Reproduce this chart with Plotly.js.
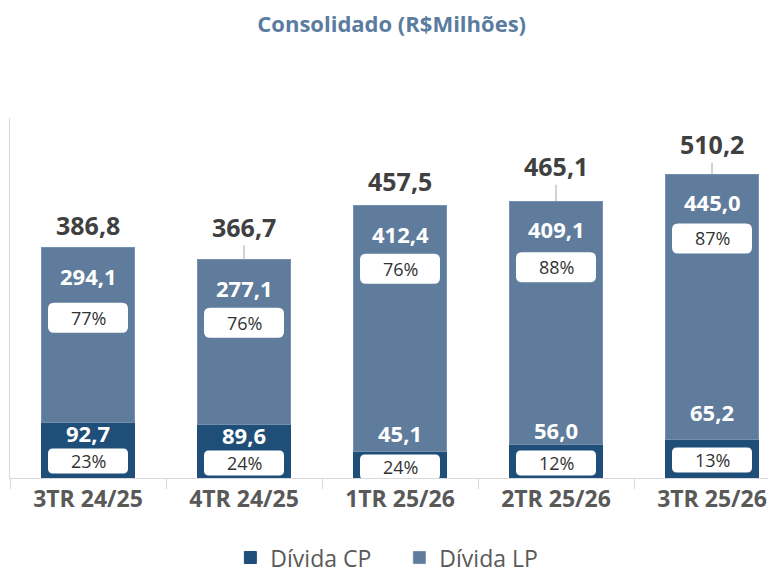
<!DOCTYPE html>
<html>
<head>
<meta charset="utf-8">
<script src="https://cdn.plot.ly/plotly-3.0.1.min.js"></script>
<style>html,body{margin:0;padding:0;background:#fff;}#chart{width:768px;height:576px;}</style>
</head>
<body>
<div id="chart"></div>
<script>
// ---- data ----
const categories = ['3TR 24/25', '4TR 24/25', '1TR 25/26', '2TR 25/26', '3TR 25/26'];
const dividaCP = [92.7, 89.6, 45.1, 56.0, 65.2];
const dividaLP = [294.1, 277.1, 412.4, 409.1, 445.0];
const pctCP = ['23%', '24%', '24%', '12%', '13%'];
const pctLP = ['77%', '76%', '76%', '88%', '87%'];
const seriesNames = ['Dívida CP', 'Dívida LP'];
const chartTitle = 'Consolidado (R$Milhões)';

// ---- styling (label nudges in pixels, not data) ----
const totalLift = [23, 33, 25, 35, 30];
const totalLeader = [false, true, false, true, true];
const cpLabelLift = [45, 43, 45, 48, 66];
const cpBoxLift = [17, 15, 11, 15, 18];
const lpBoxDrop = [70, 63, 63, 66, 64];

const FONT = 'Open Sans, Noto Sans, sans-serif';
const colCP = '#1f4e79';
const colLP = '#5f7c9c';
const fmt = v => v.toFixed(1).replace('.', ',');
const totals = dividaCP.map((v, i) => Math.round((v + dividaLP[i]) * 10) / 10);

const traces = [
  {type: 'bar', name: seriesNames[0], x: categories, y: dividaCP, width: 0.59,
   marker: {color: colCP, line: {color: colCP, width: 1}}, hoverinfo: 'none'},
  {type: 'bar', name: seriesNames[1], x: categories, y: dividaLP, width: 0.59,
   marker: {color: colLP, line: {color: '#7590ae', width: 1}}, hoverinfo: 'none'}
];

// rounded box path in pixels centred at (0, cy)
function roundBox(cy, w, h, r) {
  const x0 = -w / 2, x1 = w / 2, y0 = cy - h / 2, y1 = cy + h / 2;
  return `M${x0 + r},${y0} L${x1 - r},${y0} Q${x1},${y0} ${x1},${y0 + r} L${x1},${y1 - r} Q${x1},${y1} ${x1 - r},${y1} ` +
         `L${x0 + r},${y1} Q${x0},${y1} ${x0},${y1 - r} L${x0},${y0 + r} Q${x0},${y0} ${x0 + r},${y0} Z`;
}

const ann = [];
const shapes = [];
categories.forEach((c, i) => {
  const totFont = {family: FONT, size: 25, color: '#404040', weight: 'bold'};
  if (totalLeader[i]) {
    ann.push({x: c, y: totals[i], xref: 'x', yref: 'y', text: fmt(totals[i]),
      showarrow: true, arrowhead: 0, arrowwidth: 1, arrowcolor: '#a6a6a6', ax: 0, ay: -totalLift[i], standoff: 0,
      font: totFont});
  } else {
    ann.push({x: c, y: totals[i], xref: 'x', yref: 'y', text: fmt(totals[i]), showarrow: false,
      yshift: totalLift[i], yanchor: 'middle', font: totFont});
  }
  ann.push({x: c, y: totals[i], xref: 'x', yref: 'y', text: fmt(dividaLP[i]), showarrow: false,
    yshift: -28, yanchor: 'middle', font: {family: FONT, size: 22, color: '#ffffff', weight: 'bold'}});
  shapes.push({type: 'path', xref: 'x', yref: 'y', xsizemode: 'pixel', ysizemode: 'pixel',
    xanchor: i, yanchor: totals[i], path: roundBox(-lpBoxDrop[i], 80, 30, 6),
    fillcolor: '#ffffff', line: {width: 0}, layer: 'above'});
  ann.push({x: c, y: totals[i], xref: 'x', yref: 'y', text: pctLP[i], showarrow: false,
    yshift: -lpBoxDrop[i], yanchor: 'middle', font: {family: FONT, size: 18, color: '#333333'}});
  ann.push({x: c, y: 0, xref: 'x', yref: 'y', text: fmt(dividaCP[i]), showarrow: false,
    yshift: cpLabelLift[i], yanchor: 'middle', font: {family: FONT, size: 22, color: '#ffffff', weight: 'bold'}});
  shapes.push({type: 'path', xref: 'x', yref: 'y', xsizemode: 'pixel', ysizemode: 'pixel',
    xanchor: i, yanchor: 0, path: roundBox(cpBoxLift[i], 80, 25, 5),
    fillcolor: '#ffffff', line: {width: 0}, layer: 'above'});
  ann.push({x: c, y: 0, xref: 'x', yref: 'y', text: pctCP[i], showarrow: false,
    yshift: cpBoxLift[i], yanchor: 'middle', font: {family: FONT, size: 18, color: '#333333'}});
});

const layout = {
  width: 768, height: 576,
  margin: {l: 10, r: 0, t: 118, b: 98, autoexpand: false},
  paper_bgcolor: '#ffffff', plot_bgcolor: '#ffffff',
  barmode: 'stack',
  font: {family: FONT, color: '#595959'},
  title: {text: chartTitle, x: 0.51, xref: 'container', xanchor: 'center', y: 0.957, yref: 'container', yanchor: 'middle',
    font: {family: FONT, size: 22, color: '#5a7ca0', weight: 'bold'}},
  xaxis: {type: 'category', range: [-0.5, 4.359], showline: true, linecolor: '#d9d9d9', linewidth: 1, automargin: false,
    ticks: 'outside', tickson: 'boundaries', ticklen: 10, tickcolor: '#d9d9d9', showgrid: false, zeroline: false,
    tickfont: {family: FONT, size: 23, color: '#595959', weight: 'bold'}, fixedrange: true},
  yaxis: {range: [0, 605], showline: true, linecolor: '#d9d9d9', linewidth: 1, showticklabels: false, automargin: false,
    ticks: '', showgrid: false, zeroline: false, fixedrange: true},
  showlegend: true,
  legend: {orientation: 'h', x: 0.52, xref: 'container', xanchor: 'center', y: 0.032, yref: 'container', yanchor: 'middle',
    entrywidth: 124, entrywidthmode: 'pixels',
    font: {family: FONT, size: 23, color: '#595959'}, traceorder: 'normal', itemclick: false},
  annotations: ann,
  shapes: shapes
};

Plotly.newPlot('chart', traces, layout, {displayModeBar: false, staticPlot: true});
</script>
</body>
</html>
